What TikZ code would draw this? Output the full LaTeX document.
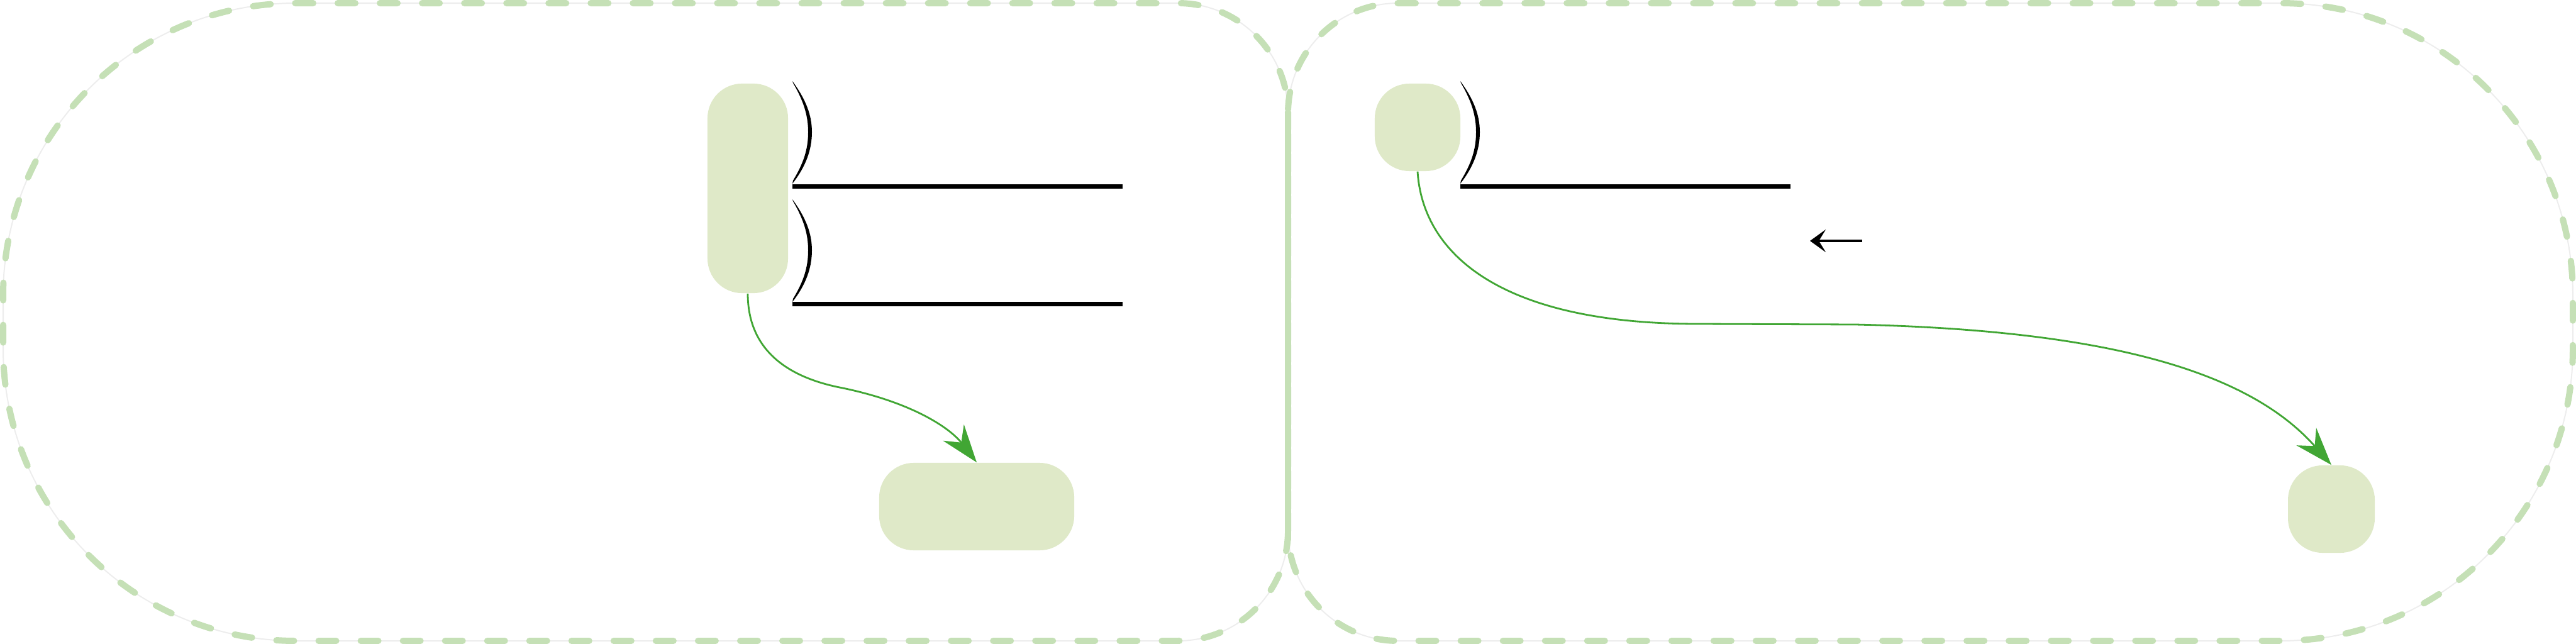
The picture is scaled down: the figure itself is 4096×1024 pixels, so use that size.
\documentclass[tikz,border=0pt]{standalone}
\usetikzlibrary{arrows.meta}
\definecolor{nodefill}{RGB}{223,233,200}
\definecolor{framegreen}{RGB}{197,224,182}
\definecolor{flowgreen}{RGB}{65,166,52}
\tikzset{
  blob/.style={fill=nodefill, draw=none, rounded corners=0.55cm, inner sep=0pt},
  framedash/.style={draw=framegreen, line width=0.1cm, line cap=round, dash pattern=on 0.28cm off 0.39cm},
  frameghost/.style={draw=black!7, line width=0.02cm},
  divider/.style={draw=framegreen, line width=0.1cm, line cap=round},
  flowline/.style={draw=flowgreen, line width=0.028cm, -{Stealth[length=0.6cm, width=0.42cm, inset=0.2cm]}},
  rulebar/.style={draw=black, line width=0.07cm},
  brk/.pic={\fill[black] (0,0) .. controls (22,30) and (31,55) .. (31,81)
      .. controls (31,108) and (22,135) .. (0,163) -- (1,158)
      .. controls (18,130) and (25,108) .. (25,81)
      .. controls (25,55) and (18,32) .. (1,3) -- cycle;}
}
\begin{document}
\begin{tikzpicture}[x=0.01cm, y=-0.01cm]
\useasboundingbox (0,0) rectangle (4096,1024);
% outer frames
\foreach \st in {frameghost, framedash}{
  \path[\st] (470,5) -- (1873,5) arc[start angle=-90, end angle=0, radius=175]
    -- (2048,844) arc[start angle=0, end angle=90, radius=175]
    -- (470,1019) arc[start angle=90, end angle=180, radius=465]
    -- (5,470) arc[start angle=180, end angle=270, radius=465] -- cycle;
  \path[\st] (2223,5) -- (3626,5) arc[start angle=-90, end angle=0, radius=465]
    -- (4091,554) arc[start angle=0, end angle=90, radius=465]
    -- (2223,1019) arc[start angle=90, end angle=180, radius=175]
    -- (2048,180) arc[start angle=180, end angle=270, radius=175] -- cycle;
}
\coordinate (dtop) at (2048,183);
\coordinate (dbot) at (2048,858);
\draw[divider] (dtop) -- (dbot);
% nodes
\node[blob, minimum width=1.28cm, minimum height=3.33cm] (A) at (1189,299.5) {};
\node[blob, minimum width=3.10cm, minimum height=1.39cm] (B) at (1553,805.5) {};
\node[blob, minimum width=1.36cm, minimum height=1.39cm] (C) at (2254,202.5) {};
\node[blob, minimum width=1.38cm, minimum height=1.39cm] (D) at (3707,809.5) {};
% brackets and rules
\pic at (1260,129) {brk};
\pic at (1260,317) {brk};
\pic at (2322,129) {brk};
\coordinate (r1a) at (1260,296); \coordinate (r1b) at (1785,296);
\coordinate (r2a) at (1260,483.5); \coordinate (r2b) at (1785,483.5);
\coordinate (r3a) at (2322,296); \coordinate (r3b) at (2847,296);
\draw[rulebar] (r1a) -- (r1b);
\draw[rulebar] (r2a) -- (r2b);
\draw[rulebar] (r3a) -- (r3b);
% small arrow
\coordinate (sa1) at (2961,383);
\coordinate (sa2) at (2878,383);
\draw[line width=0.04cm, -{Stealth[length=0.25cm, width=0.36cm, inset=0.11cm]}] (sa1) -- (sa2);
% connectors
\coordinate (lm) at (1340,617);
\draw[flowline] (A.south) .. controls (1189,555) and (1250,600) .. (lm)
  .. controls (1450,640) and (1510,680) .. (B.north);
\coordinate (rm1) at (2700,515);
\coordinate (rm2) at (2950,516);
\draw[flowline] (C.south) .. controls (2262,400) and (2380,515) .. (rm1) -- (rm2)
  .. controls (3350,525) and (3575,590) .. (D.north);
\end{tikzpicture}
\end{document}
